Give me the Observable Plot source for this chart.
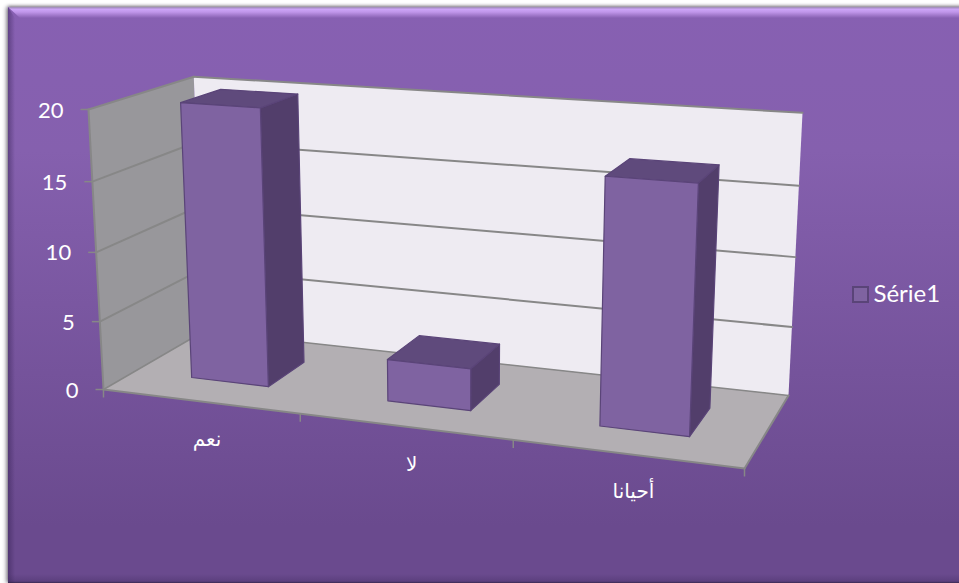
<!DOCTYPE html>
<html lang="fr">
<head>
<meta charset="utf-8">
<title>Série1</title>
<script src="https://cdn.jsdelivr.net/npm/d3@7"></script>
<script src="https://cdn.jsdelivr.net/npm/@observablehq/plot@0.6"></script>
<style>
  html, body { margin: 0; padding: 0; background: #fff; overflow: hidden; }
  #panel {
    position: absolute; left: 8px; top: 7px; width: 960px; height: 576px;
    background: linear-gradient(to bottom, #8760b2 0%, #8560ae 25%, #6a4a8e 90%, #6a4a8e 100%);
    box-shadow: -2px 0 4px rgba(40,30,50,.45), 0 -1px 3px rgba(40,30,50,.45);
  }
  #panel .bevel { position: absolute; }
  #panel .top {
    left: 0; top: 0; right: 0; height: 11px;
    background: linear-gradient(to bottom, #a58fc0 0, #a58fc0 1px, #cda5f8 2px, #c096ea 5px, #8760b2 100%);
    clip-path: polygon(0 0, 100% 0, 100% 100%, 12px 100%);
  }
  #panel .left {
    left: 0; top: 0; bottom: 0; width: 7px;
    background: linear-gradient(to right, rgba(50,30,80,.45), rgba(50,30,80,0));
    clip-path: polygon(0 0, 100% 11px, 100% 100%, 0 100%);
  }
  #panel .bottom {
    left: 0; right: 0; bottom: 0; height: 9px;
    background: linear-gradient(to bottom, rgba(60,40,90,0), rgba(60,40,90,.3) 80%, rgba(40,30,60,.75) 100%);
  }
  #chart { position: absolute; left: 0; top: 0; }
  #chart svg { display: block; background: transparent; }
</style>
</head>
<body>
<div id="panel"><div class="bevel top"></div><div class="bevel left"></div><div class="bevel bottom"></div></div>
<div id="chart"></div>
<script>
// Chart values
const categories = ["نعم", "لا", "أحيانا"];
const values = [20, 3, 17];
const valueTicks = [0, 5, 10, 15, 20];
const seriesName = "Série1";
const valueMax = 20;

// Palette
const colors = {
  wallLeft: "#98979b", wallBack: "#eeebf2", floor: "#b3afb3", axis: "#878787",
  front: "#7f63a1", top: "#5f4a7c", side: "#523e6b", edge: "#5a4478", text: "#ffffff"
};

// Perspective camera: floor corners (front-left, front-right, back-right, back-left),
// the vanishing point of the vertical direction, and the vertical foreshortening
const floorQuad = [[103, 389], [744, 468], [788, 395], [203, 331]];
const verticalVanish = [459, 7030];
const verticalWeight = -0.04046;

// Homogeneous map taking the unit square onto the floor quadrilateral
function homography([[x0, y0], [x1, y1], [x2, y2], [x3, y3]]) {
  const dx1 = x1 - x2, dx2 = x3 - x2, sx = x0 - x1 + x2 - x3;
  const dy1 = y1 - y2, dy2 = y3 - y2, sy = y0 - y1 + y2 - y3;
  const den = dx1 * dy2 - dx2 * dy1;
  const g = (sx * dy2 - dx2 * sy) / den, h = (dx1 * sy - sx * dy1) / den;
  const a = x1 - x0 + g * x1, b = x3 - x0 + h * x3;
  const d = y1 - y0 + g * y1, e = y3 - y0 + h * y3;
  return (u, v) => [a * u + b * v + x0, d * u + e * v + y0, g * u + h * v + 1];
}
const onFloor = homography(floorQuad);

// Data space to page: c = category position, v = value, w = depth (0 front, 1 back)
function project(c, v, w) {
  const [X, Y, W] = onFloor(c / categories.length, w);
  const m = verticalWeight * (v / valueMax);
  return [(X + m * verticalVanish[0]) / (W + m), (Y + m * verticalVanish[1]) / (W + m)];
}
const pt = (c, v, w) => { const [x, y] = project(c, v, w); return {x, y}; };

// Filled polygon and straight segment helpers
const face = (corners, fill, stroke = "none", strokeWidth = 1.2) =>
  Plot.line(corners.map(([c, v, w]) => pt(c, v, w)),
    {x: "x", y: "y", curve: "linear-closed", fill, stroke, strokeWidth, strokeLinejoin: "round"});
const segment = (a, b, strokeWidth = 2) =>
  Plot.line([pt(...a), pt(...b)], {x: "x", y: "y", stroke: colors.axis, strokeWidth});

const n = categories.length;

// Box walls and floor
const walls = [
  face([[0, 0, 0], [0, valueMax, 0], [0, valueMax, 1], [0, 0, 1]], colors.wallLeft),
  face([[0, 0, 1], [0, valueMax, 1], [n, valueMax, 1], [n, 0, 1]], colors.wallBack),
  face([[0, 0, 0], [n, 0, 0], [n, 0, 1], [0, 0, 1]], colors.floor)
];

// Gridlines run along the left wall and across the back wall
const grid = valueTicks.flatMap((v) => v === 0
  ? [segment([0, 0, 0], [0, 0, 1], 1.5), segment([0, 0, 1], [n, 0, 1], 1.5)]
  : [segment([0, v, 0], [0, v, 1]), segment([0, v, 1], [n, v, 1])]);

// Axis frame: value axis on the front-left edge, category axis on the floor's front edge
const frame = [
  segment([0, 0, 0], [0, valueMax, 0], 2),
  segment([0, 0, 0], [n, 0, 0], 2),
  segment([n, 0, 0], [n, 0, 1], 2)
];

// Bars occupy 40% of each category's width and of the depth
const barInset = 0.3;
const bars = values.flatMap((v, i) => {
  const l = i + barInset, r = i + 1 - barInset, f = barInset, b = 1 - barInset;
  return [
    face([[r, 0, f], [r, v, f], [r, v, b], [r, 0, b]], colors.side, colors.edge),
    face([[l, v, f], [r, v, f], [r, v, b], [l, v, b]], colors.top, colors.edge),
    face([[l, 0, f], [r, 0, f], [r, v, f], [l, v, f]], colors.front, colors.edge)
  ];
});

// Projected anchors for ticks and their labels
const valueTickData = valueTicks.map((v) => ({v, ...pt(0, v, 0)}));
const categoryTickData = d3.range(n + 1).map((c) => pt(c, 0, 0));
const categoryLabelData = categories.map((label, i) => ({label, ...pt(i + 0.5, 0, 0)}));
const tickLength = 8;

const fontFamily = "Lato, 'DejaVu Sans', sans-serif";

const plot = Plot.plot({
  width: 959,
  height: 583,
  margin: 0,
  x: {type: "linear", domain: [0, 959], range: [0, 959], axis: null},
  y: {type: "linear", domain: [0, 583], range: [0, 583], axis: null},
  style: {background: "transparent", fontFamily},
  marks: [
    ...walls,
    ...grid,
    ...frame,
    ...bars,
    Plot.link(categoryTickData, {
      x1: "x", x2: "x", y1: "y", y2: (d) => d.y + tickLength,
      stroke: colors.axis, strokeWidth: 1.5
    }),
    Plot.link(valueTickData, {
      x1: (d) => d.x - tickLength, x2: "x", y1: "y", y2: "y",
      stroke: colors.axis, strokeWidth: 1.5
    }),
    Plot.text(valueTickData, {
      x: "x", y: "y", text: "v", dx: -25, dy: 1, textAnchor: "end",
      fill: colors.text, fontSize: 22
    }),
    Plot.text(categoryLabelData, {
      x: "x", y: "y", text: "label", dx: 7, dy: 38,
      fill: colors.text, fontSize: 20, fontFamily: "'DejaVu Sans', sans-serif"
    }),
    // Legend
    Plot.rect([seriesName], {
      x1: () => 853, x2: () => 868, y1: () => 287, y2: () => 302,
      fill: colors.front, stroke: colors.edge, strokeWidth: 2
    }),
    Plot.text([seriesName], {
      x: () => 873, y: () => 294, text: (d) => d, textAnchor: "start",
      fill: colors.text, fontSize: 24
    })
  ]
});
document.getElementById("chart").append(plot);
</script>
</body>
</html>
